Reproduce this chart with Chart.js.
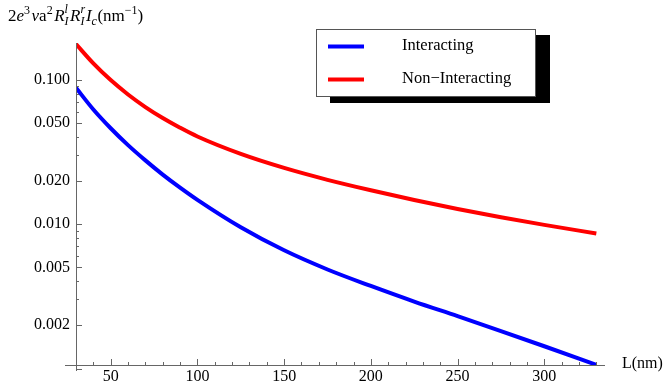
<!DOCTYPE html>
<html>
<head>
<meta charset="utf-8">
<script src="https://cdn.jsdelivr.net/npm/chart.js@4"></script>
<style>
  html, body { margin: 0; padding: 0; background: #fff; }
  canvas { display: block; }
</style>
</head>
<body>
<canvas id="currentChart" width="663" height="392"></canvas>
<script>
//chart data
const lengths = [30, 40, 50, 60, 70, 80, 90, 100, 125, 150, 175, 200, 225, 250, 275, 300, 330];
const interacting = [0.088, 0.0622, 0.0461, 0.0352, 0.0276, 0.0220, 0.01786, 0.01469, 0.00948, 0.00656, 0.00483, 0.00371, 0.00289, 0.00229, 0.001805, 0.001417, 0.001053];
const nonInteracting = [0.177, 0.130, 0.0995, 0.0791, 0.0647, 0.0543, 0.0465, 0.0404, 0.0306, 0.02446, 0.02023, 0.01712, 0.01466, 0.01269, 0.01112, 0.00985, 0.00858];
const seriesNames = ['Interacting', 'Non\u2212Interacting'];

//axis ticks
const xTicks = [50, 100, 150, 200, 250, 300];
const xMinorTicks = [40, 60, 70, 80, 90, 110, 120, 130, 140, 160, 170, 180, 190, 210, 220, 230, 240, 260, 270, 280, 290, 310, 320, 330];
const yTicks = [0.002, 0.005, 0.01, 0.02, 0.05, 0.1];
const yMinorTicks = [0.003, 0.004, 0.006, 0.007, 0.008, 0.009, 0.03, 0.04, 0.06, 0.07, 0.08, 0.09];

const serif = '"Liberation Serif", "Times New Roman", serif';

//turn arrays into points
const toPoints = values => lengths.map((l, i) => ({x: l, y: values[i]}));

//draw text with sub/superscripts
function drawRich(ctx, x, y, parts) {
    parts.forEach(p => {
        ctx.font = (p.italic ? 'italic ' : '') + (p.size || 17) + 'px ' + serif;
        ctx.fillText(p.t, x, y + (p.dy || 0));
        if (!p.stack) {
            x += ctx.measureText(p.t).width + (p.gap || 0);
        }
    });
}

//axes, ticks, titles and legend like the Mathematica plot
const decorations = {
    id: 'decorations',
    afterDraw(chart) {
        const ctx = chart.ctx;
        const xs = chart.scales.x;
        const ys = chart.scales.y;
        const area = chart.chartArea;
        ctx.save();

        //axis lines
        ctx.strokeStyle = '#666';
        ctx.lineWidth = 1;
        ctx.beginPath();
        ctx.moveTo(65, area.bottom + 0.5);
        ctx.lineTo(area.right, area.bottom + 0.5);
        ctx.moveTo(area.left + 0.5, area.top);
        ctx.lineTo(area.left + 0.5, area.bottom + 6);
        ctx.moveTo(area.left, area.bottom + 4.5);
        ctx.lineTo(area.left + 6, area.bottom + 4.5);
        ctx.stroke();

        //ticks pointing inwards
        ctx.beginPath();
        xTicks.forEach(v => {
            const px = Math.round(xs.getPixelForValue(v)) + 0.5;
            ctx.moveTo(px, area.bottom);
            ctx.lineTo(px, area.bottom - 6);
        });
        xMinorTicks.forEach(v => {
            const px = Math.round(xs.getPixelForValue(v)) + 0.5;
            ctx.moveTo(px, area.bottom);
            ctx.lineTo(px, area.bottom - 3);
        });
        yTicks.forEach(v => {
            const py = Math.round(ys.getPixelForValue(v)) + 0.5;
            ctx.moveTo(area.left, py);
            ctx.lineTo(area.left + 6, py);
        });
        yMinorTicks.forEach(v => {
            const py = Math.round(ys.getPixelForValue(v)) + 0.5;
            ctx.moveTo(area.left, py);
            ctx.lineTo(area.left + 3, py);
        });
        ctx.stroke();

        //axis titles
        ctx.fillStyle = '#000';
        ctx.textBaseline = 'alphabetic';
        ctx.textAlign = 'left';
        drawRich(ctx, 8, 21, [
            {t: '2'},
            {t: 'e', italic: true},
            {t: '3', size: 12, dy: -7, gap: 1.5},
            {t: '\u03bd', italic: true},
            {t: 'a'},
            {t: '2', size: 12, dy: -7, gap: 1.5},
            {t: 'R', italic: true},
            {t: 'l', italic: true, size: 12, dy: -8, stack: true},
            {t: 'I', italic: true, size: 12, dy: 4, gap: 1.5},
            {t: 'R', italic: true},
            {t: 'r', italic: true, size: 12, dy: -8, stack: true},
            {t: 'I', italic: true, size: 12, dy: 4, gap: 1.5},
            {t: 'I', italic: true},
            {t: 'c', italic: true, size: 12, dy: 4, gap: 0.5},
            {t: '(nm'},
            {t: '\u22121', size: 12, dy: -7},
            {t: ')'}
        ]);
        ctx.font = '16px ' + serif;
        ctx.textBaseline = 'middle';
        ctx.fillText('L(nm)', 622, area.bottom - 1);

        //legend with drop shadow
        ctx.fillStyle = '#000';
        ctx.fillRect(330, 35, 220, 68);
        ctx.fillStyle = '#fff';
        ctx.fillRect(316, 29, 220, 68);
        ctx.strokeStyle = '#555';
        ctx.strokeRect(316.5, 29.5, 219, 67);
        const rows = [46.5, 79.5];
        chart.data.datasets.forEach((ds, i) => {
            ctx.strokeStyle = ds.borderColor;
            ctx.lineWidth = 4;
            ctx.beginPath();
            ctx.moveTo(328, rows[i]);
            ctx.lineTo(364, rows[i]);
            ctx.stroke();
            ctx.fillStyle = '#000';
            ctx.font = '16.5px ' + serif;
            ctx.fillText(ds.label, 402, rows[i] - 1);
        });
        ctx.restore();
    }
};

const currentCtx = document.getElementById('currentChart').getContext('2d');
const currentChart = new Chart(currentCtx, {
    type: 'line',
    data: {
        datasets: [{
            label: seriesNames[0],
            data: toPoints(interacting),
            borderColor: '#0000ff',
            borderWidth: 4,
            pointRadius: 0,
            cubicInterpolationMode: 'monotone',
            fill: false
        }, {
            label: seriesNames[1],
            data: toPoints(nonInteracting),
            borderColor: '#ff0000',
            borderWidth: 4,
            pointRadius: 0,
            cubicInterpolationMode: 'monotone',
            fill: false
        }]
    },
    options: {
        responsive: false,
        animation: false,
        events: [],
        layout: {padding: {left: 0, right: 58, top: 43, bottom: 0}},
        plugins: {
            legend: {display: false},
            tooltip: {enabled: false}
        },
        scales: {
            x: {
                type: 'linear',
                min: 30,
                max: 335,
                border: {display: false},
                grid: {display: false, drawTicks: false},
                afterBuildTicks: scale => { scale.ticks = xTicks.map(v => ({value: v})); },
                afterFit: scale => { scale.height = 27; },
                ticks: {
                    padding: 2,
                    maxRotation: 0,
                    color: '#000',
                    font: {family: serif, size: 16}
                }
            },
            y: {
                type: 'logarithmic',
                min: 0.00105,
                max: 0.18,
                border: {display: false},
                grid: {display: false, drawTicks: false},
                afterBuildTicks: scale => { scale.ticks = yTicks.map(v => ({value: v})); },
                afterFit: scale => { scale.width = 76; },
                ticks: {
                    padding: 6,
                    color: '#000',
                    font: {family: serif, size: 16},
                    callback: value => Number(value).toFixed(3)
                }
            }
        }
    },
    plugins: [decorations]
});
</script>
</body>
</html>
